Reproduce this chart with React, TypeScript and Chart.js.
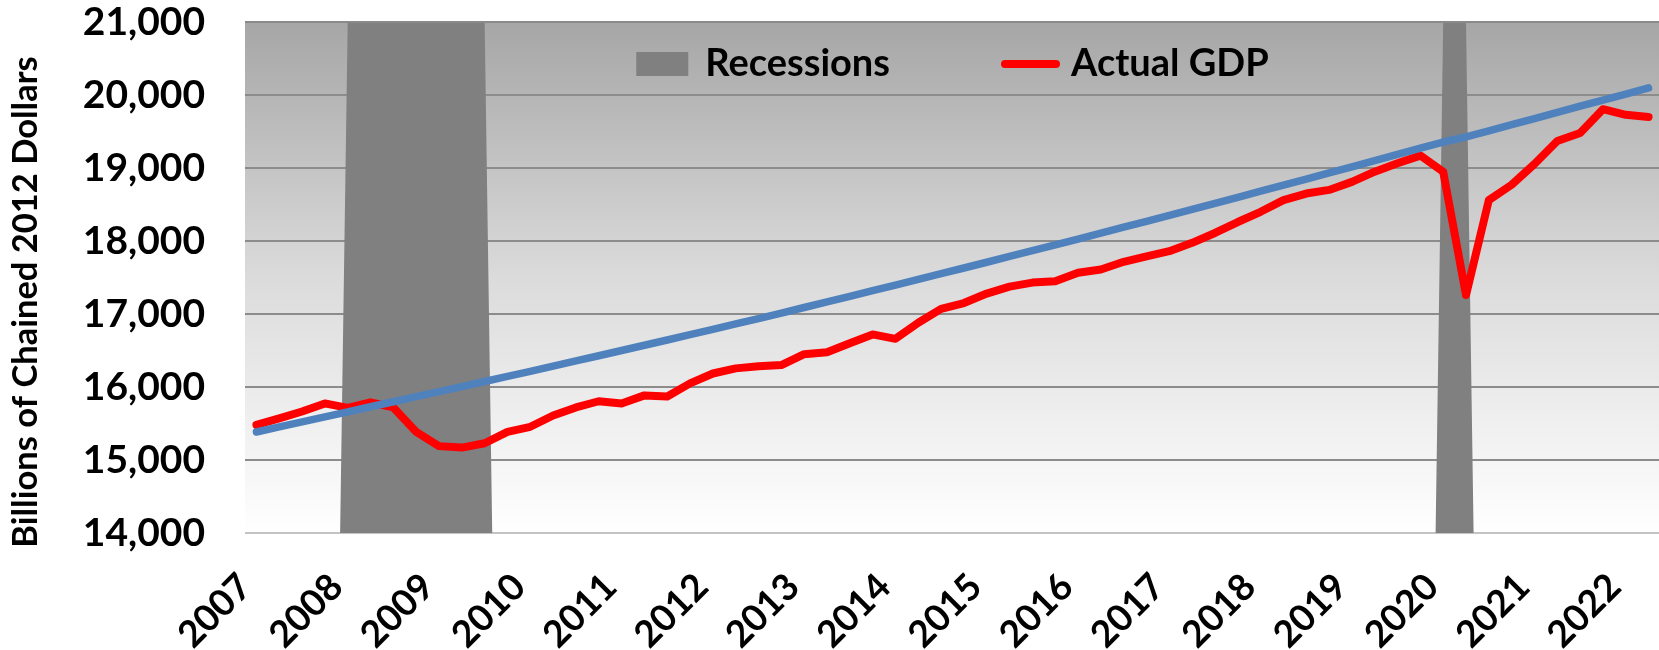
import React, { useEffect, useRef } from 'react';
import { Chart, registerables } from 'chart.js';

Chart.register(...registerables);

const FONT = "Lato, 'DejaVu Sans', sans-serif";

// Quarterly categories, 2007 Q1 .. 2022 Q2
const years = [2007, 2008, 2009, 2010, 2011, 2012, 2013, 2014, 2015, 2016, 2017, 2018, 2019, 2020, 2021, 2022];
const quarters = ['Q1', 'Q2', 'Q3', 'Q4'];
const categories: string[] = [];
years.forEach((y) => quarters.forEach((q) => categories.push(`${y} ${q}`)));
categories.length = 62;

// Actual real GDP (billions of chained 2012 dollars)
const actualGDP = [
  15480, 15570, 15665, 15775, 15715, 15790, 15720, 15385,
  15190, 15170, 15230, 15385, 15455, 15610, 15720, 15805,
  15775, 15885, 15870, 16050, 16185, 16255, 16285, 16300,
  16450, 16475, 16600, 16720, 16660, 16880, 17070, 17150,
  17280, 17375, 17430, 17450, 17565, 17610, 17715, 17790,
  17860, 17975, 18110, 18260, 18400, 18560, 18650, 18700,
  18810, 18950, 19065, 19170, 18950, 17260, 18560, 18770,
  19055, 19370, 19480, 19805, 19728, 19700,
];

// Trend (blue) line
const trendGDP = [
  15384, 15453, 15522, 15591, 15660, 15729, 15798, 15867,
  15936, 16005, 16075, 16145, 16215, 16286, 16357, 16428,
  16500, 16572, 16644, 16717, 16790, 16864, 16938, 17013,
  17089, 17165, 17242, 17319, 17396, 17474, 17552, 17630,
  17709, 17788, 17867, 17947, 18027, 18108, 18189, 18270,
  18352, 18434, 18516, 18599, 18682, 18765, 18849, 18933,
  19017, 19101, 19186, 19271, 19356, 19425, 19510, 19595,
  19678, 19762, 19846, 19930, 20012, 20097,
];

// Recession shading (area at the top of the axis during recessions)
const recessions = [
  0, 0, 0, 0, 21000, 21000, 21000, 21000,
  21000, 21000, 21000, 0, 0, 0, 0, 0,
  0, 0, 0, 0, 0, 0, 0, 0,
  0, 0, 0, 0, 0, 0, 0, 0,
  0, 0, 0, 0, 0, 0, 0, 0,
  0, 0, 0, 0, 0, 0, 0, 0,
  0, 0, 0, 0, 21000, 21000, 0, 0,
  0, 0, 0, 0, 0, 0,
];

const yTicks = [14000, 15000, 16000, 17000, 18000, 19000, 20000, 21000];
const yTitle = 'Billions of Chained 2012 Dollars';
const legendItems = ['Recessions', 'Actual GDP'];

const backgroundPlugin = {
  id: 'plotBackground',
  beforeDraw(chart: any) {
    const { ctx, chartArea: a } = chart;
    const g = ctx.createLinearGradient(0, a.top, 0, a.bottom);
    g.addColorStop(0, '#a6a6a6');
    g.addColorStop(0.5, '#dbdbdb');
    g.addColorStop(1, '#ffffff');
    ctx.save();
    ctx.fillStyle = g;
    ctx.fillRect(a.left, a.top, a.right - a.left, a.bottom - a.top);
    ctx.restore();
  },
  afterDatasetsDraw(chart: any) {
    const { ctx, chartArea: a } = chart;
    ctx.save();
    ctx.strokeStyle = '#8a8a8a';
    ctx.lineWidth = 2;
    ctx.beginPath();
    ctx.moveTo(a.left, a.top);
    ctx.lineTo(a.right, a.top);
    ctx.stroke();
    ctx.restore();
  },
  afterDraw(chart: any) {
    const { ctx, chartArea: a } = chart;
    ctx.save();
    // Y axis title
    ctx.translate(26, 302);
    ctx.rotate(-Math.PI / 2);
    ctx.fillStyle = '#000';
    ctx.font = `bold 34.5px ${FONT}`;
    ctx.textAlign = 'center';
    ctx.textBaseline = 'middle';
    ctx.fillText(yTitle, 0, 0);
    ctx.restore();

    // Legend inside the plot area
    ctx.save();
    ctx.font = `bold 38px ${FONT}`;
    const w1 = ctx.measureText(legendItems[0]).width;
    const w2 = ctx.measureText(legendItems[1]).width;
    const boxW = 52, gap1 = 17, gapMid = 111, lineW = 59, gap2 = 11;
    const total = boxW + gap1 + w1 + gapMid + lineW + gap2 + w2;
    let x = (a.left + a.right) / 2 - total / 2;
    const base = a.top + 54;
    ctx.fillStyle = '#808080';
    ctx.fillRect(x, a.top + 30, boxW, 24);
    x += boxW + gap1;
    ctx.fillStyle = '#000';
    ctx.textBaseline = 'alphabetic';
    ctx.textAlign = 'left';
    ctx.fillText(legendItems[0], x, base);
    x += w1 + gapMid;
    ctx.strokeStyle = '#ff0000';
    ctx.lineWidth = 8;
    ctx.lineCap = 'round';
    ctx.beginPath();
    ctx.moveTo(x + 4, a.top + 42);
    ctx.lineTo(x + lineW - 4, a.top + 42);
    ctx.stroke();
    x += lineW + gap2;
    ctx.fillText(legendItems[1], x, base);
    ctx.restore();
  },
};

export default function App() {
  const ref = useRef<HTMLCanvasElement | null>(null);

  useEffect(() => {
    if (!ref.current) return;
    const chart = new Chart(ref.current, {
      type: 'line',
      data: {
        labels: categories,
        datasets: [
          {
            label: 'Trend',
            data: trendGDP,
            borderColor: '#4f81bd',
            borderWidth: 7.5,
            pointRadius: 0,
            borderCapStyle: 'round',
            borderJoinStyle: 'round',
            order: 0,
          },
          {
            label: 'Actual GDP',
            data: actualGDP,
            borderColor: '#ff0000',
            borderWidth: 8,
            pointRadius: 0,
            borderCapStyle: 'round',
            borderJoinStyle: 'round',
            order: 1,
          },
          {
            label: 'Recessions',
            data: recessions,
            borderColor: 'rgba(0,0,0,0)',
            borderWidth: 0,
            backgroundColor: '#808080',
            fill: { value: 0 },
            pointRadius: 0,
            order: 2,
          },
        ],
      },
      options: {
        responsive: false,
        animation: false,
        devicePixelRatio: 1,
        layout: { padding: { top: 22, left: 0, right: 0, bottom: 0 } },
        plugins: {
          legend: { display: false },
          tooltip: { enabled: false },
        },
        scales: {
          x: {
            type: 'category',
            offset: true,
            grid: { display: false, drawTicks: false },
            border: { display: false },
            ticks: {
              autoSkip: false,
              minRotation: 45,
              maxRotation: 45,
              padding: 32,
              labelOffset: -11,
              color: '#000',
              font: { family: FONT, size: 37, weight: 'bold' },
              callback: (_v: any, i: number) => {
                const l = categories[i];
                return l.endsWith('Q1') ? l.slice(0, 4) : '';
              },
            },
            afterFit: (s: any) => {
              s.height = 117;
              s.paddingLeft = 0;
              s.paddingRight = 0;
            },
          },
          y: {
            min: 14000,
            max: 21000,
            grid: {
              drawTicks: false,
              lineWidth: 2,
              color: (c: any) => (c.tick && c.tick.value === 14000 ? '#c4c4c4' : '#8c8c8c'),
            },
            border: { display: false },
            afterBuildTicks: (s: any) => {
              s.ticks = yTicks.map((v) => ({ value: v }));
            },
            ticks: {
              padding: 40,
              color: '#000',
              font: { family: FONT, size: 39, weight: 'bold' },
              callback: (v: any) => Number(v).toLocaleString('en-US'),
            },
            afterFit: (s: any) => {
              s.width = 245;
              s.paddingTop = 0;
              s.paddingBottom = 0;
            },
          },
        },
      },
      plugins: [backgroundPlugin],
    } as any);
    return () => chart.destroy();
  }, []);

  return (
    <div
      style={{
        position: 'fixed',
        left: 0,
        top: 0,
        width: 1659,
        height: 650,
        overflow: 'hidden',
        background: '#fff',
      }}
    >
      <canvas ref={ref} width={1660} height={650} style={{ display: 'block' }} />
    </div>
  );
}
